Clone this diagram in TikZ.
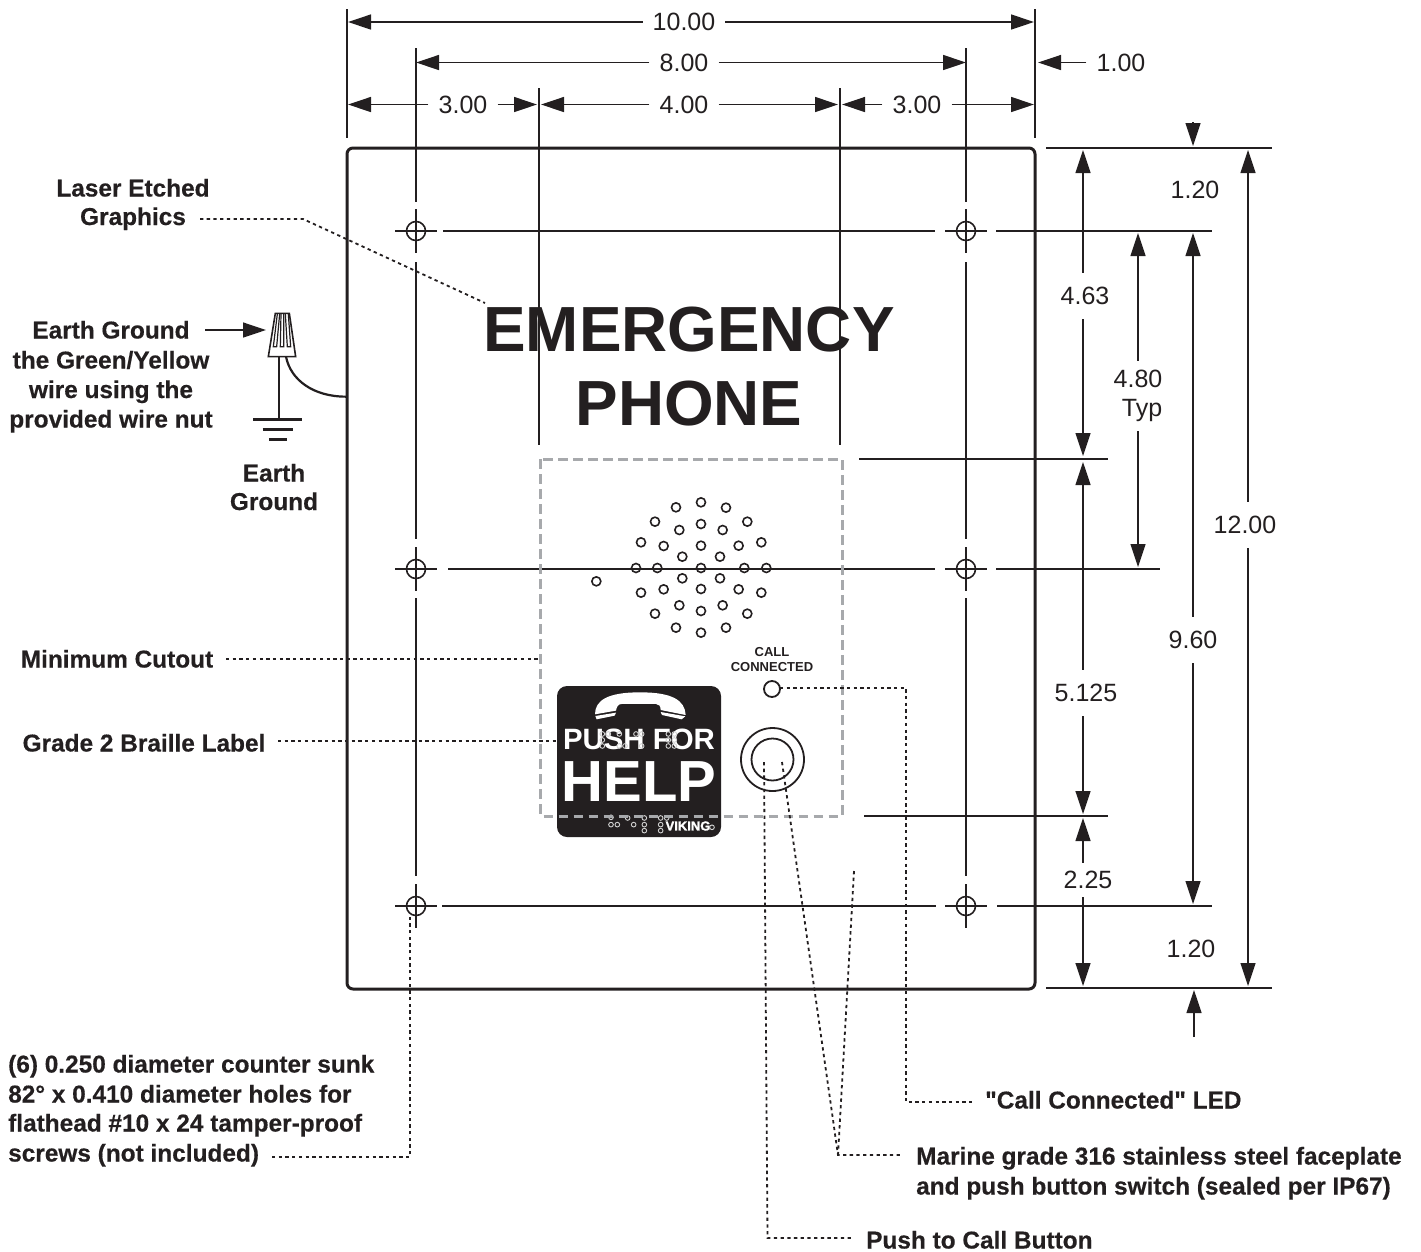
\documentclass[tikz,border=0pt]{standalone}
\usepackage{fontspec}
\setmainfont{Liberation Sans}[Ligatures=TeXOff]
\usetikzlibrary{arrows.meta}
\definecolor{inkblk}{HTML}{231F20}
\definecolor{cutgray}{HTML}{A7A9AC}
\tikzset{
    thinln/.style={draw=inkblk,line width=1.3pt},
    dimline/.style={thinln,-{Triangle[length=23pt,width=15pt]}},
    leader/.style={draw=inkblk,line width=1.8pt,dash pattern=on 3.3pt off 3.4pt},
    dimtxt/.style={text=inkblk,font=\fontsize{25}{29.5}\selectfont,inner xsep=10pt,inner ysep=6pt,align=center},
    calltxt/.style={text=inkblk,font=\fontsize{24.4}{29.5}\selectfont\bfseries\addfontfeature{FakeBold=0.4},inner sep=0pt,align=center,text height=17pt,text depth=0pt},
    screwhole/.style={circle,draw=inkblk,line width=1.6pt,minimum size=19pt,inner sep=0pt},
    ring/.style={draw=inkblk,line width=1.6pt},
    nutln/.style={draw=inkblk,line width=1.2pt},
    brl/.style={draw=gray!35,line width=0.9pt},
}
\begin{document}
\begin{tikzpicture}[x=1pt,y=-1pt]
    \useasboundingbox (0,0) rectangle (1421,1251);

    % faceplate and cutout
    \draw[draw=inkblk,line width=3pt,rounded corners=6pt] (347,148) rectangle (1035,989);

    % mounting holes
    \foreach \hx/\hy/\hname in {416/231/ha,966/231/hb,416/569/hc,966/569/hd,416/906/he,966/906/hf} {
        \node[screwhole] (\hname) at (\hx,\hy) {};
        \draw[thinln] ({\hx-21},\hy) -- ({\hx+21},\hy);
        \draw[thinln] (\hx,{\hy-22}) -- (\hx,{\hy+22});
    }
    \foreach \vx in {416,966} {
        \draw[thinln] (\vx,48) -- (\vx,202);
        \draw[thinln] (\vx,262) -- (\vx,539);
        \draw[thinln] (\vx,598) -- (\vx,876);
    }
    \draw[thinln] (443,231) -- (935,231);
    \draw[thinln] (996,231) -- (1212,231);
    \draw[thinln] (448,569) -- (935,569);
    \draw[thinln] (996,569) -- (1160,569);
    \draw[thinln] (442,906) -- (936,906);
    \draw[thinln] (997,906) -- (1212,906);

    % extension lines
    \draw[thinln] (347,9) -- (347,138);
    \draw[thinln] (1035,9) -- (1035,138);
    \draw[thinln] (539,88) -- (539,445);
    \draw[thinln] (840,88) -- (840,445);
    \draw[thinln] (1046,148) -- (1272,148);
    \draw[thinln] (1046,988) -- (1272,988);
    \draw[thinln] (859,459) -- (1108,459);
    \draw[thinln] (864,816) -- (1108,816);

    % top dimensions
    \node[dimtxt] (dten) at (684,22) {10.00};
    \draw[dimline] (dten) -- (348,22);
    \draw[dimline] (dten) -- (1034,22);
    \node[dimtxt] (deight) at (684,62.5) {8.00};
    \draw[dimline] (deight) -- (416,62.5);
    \draw[dimline] (deight) -- (966,62.5);
    \node[dimtxt] (dthreea) at (463,104.5) {3.00};
    \draw[dimline] (dthreea) -- (348,104.5);
    \draw[dimline] (dthreea) -- (537,104.5);
    \node[dimtxt] (dfour) at (684,104.5) {4.00};
    \draw[dimline] (dfour) -- (541,104.5);
    \draw[dimline] (dfour) -- (838,104.5);
    \node[dimtxt] (dthreeb) at (917,104.5) {3.00};
    \draw[dimline] (dthreeb) -- (842,104.5);
    \draw[dimline] (dthreeb) -- (1034,104.5);
    \node[dimtxt] (done) at (1121,62.5) {1.00};
    \draw[dimline] (done) -- (1038,62.5);

    % right dimensions
    \node[dimtxt,inner ysep=14pt] (dfoursix) at (1083,296) {\hspace*{4pt}4.63};
    \draw[dimline] (dfoursix) -- (1083,150);
    \draw[dimline] (dfoursix) -- (1083,456);
    \node[dimtxt,inner ysep=14pt] (dfive) at (1083,693) {\hspace*{6pt}5.125};
    \draw[dimline] (dfive) -- (1083,462);
    \draw[dimline] (dfive) -- (1083,814);
    \node[dimtxt,inner ysep=8pt] (dtwo) at (1083,880) {\hspace*{10pt}2.25};
    \draw[dimline] (dtwo) -- (1083,818);
    \draw[dimline] (dtwo) -- (1083,986);
    \node[dimtxt,inner ysep=9pt] (dfoureight) at (1138,396) {4.80\\\hspace*{8pt}Typ};
    \draw[dimline] (dfoureight) -- (1138,233);
    \draw[dimline] (dfoureight) -- (1138,567);
    \node[dimtxt,inner ysep=14pt] (dnine) at (1193,640) {9.60};
    \draw[dimline] (dnine) -- (1193,233);
    \draw[dimline] (dnine) -- (1193,904);
    \node[dimtxt,inner ysep=14pt] (dtwelve) at (1248,525) {\hspace*{-6pt}12.00};
    \draw[dimline] (dtwelve) -- (1248,150);
    \draw[dimline] (dtwelve) -- (1248,986);
    \node[dimtxt] (dtopone) at (1195,190) {1.20};
    \node[dimtxt] (dbotone) at (1191,949) {1.20};
    \coordinate (toptail) at (1193,122);
    \coordinate (bottail) at (1194,1037);
    \draw[dimline] (toptail) -- (1193,146);
    \draw[dimline] (bottail) -- (1194,990);

    % sign text
    \node[text=inkblk,inner sep=0pt,font=\fontsize{63.8}{64}\selectfont\bfseries] (emerg) at (689,330) {EMERGENCY};
    \node[text=inkblk,inner sep=0pt,font=\fontsize{63.8}{64}\selectfont\bfseries] (phone) at (689,403.5) {PHONE};

    % speaker
    \begin{scope}[shift={(540,480)},x=0.3333pt,y=-0.3333pt]
        \foreach \sx/\sy in {408/82,483/67,558/83,345/125,622/125,418/150,483/132,548/150,303/187,371/198,483/197,596/197,664/187,427/230,540/230,288/264,352/264,483/264,613/264,679/264,427/295,540/295,303/338,371/328,483/327,596/328,664/338,418/376,483/393,548/376,345/401,622/401,408/443,483/458,558/443,169/304} {
            \draw[ring] (\sx,\sy) circle (13.5);
        }
    \end{scope}

    % push for help label
    \node[fill=inkblk,rounded corners=10pt,minimum width=164pt,minimum height=151pt,inner sep=0pt] (helplbl) at (639,761.5) {};
    \begin{scope}[shift={(540,480)},x=0.3333pt,y=-0.3333pt]
        \fill[white] (165,703) .. controls (165,660) and (205,637) .. (300,637) .. controls (395,637) and (435,660) .. (437,705) -- (362,690) .. controls (362,678) and (357,672) .. (348,672) -- (245,672) .. controls (235,672) and (230,680) .. (228,692) -- cycle;
        \fill[white] (166,708) -- (228,698) -- (224,707) -- (170,718) -- cycle;
        \fill[white] (362,696) -- (436,709) -- (425,718) -- (366,705) -- cycle;
    \end{scope}
    \node[text=white,inner sep=0pt,font=\fontsize{29.4}{30}\selectfont\bfseries] (pushfor) at (639,739) {PUSH FOR};
    \node[text=white,inner sep=0pt,font=\fontsize{58}{58}\selectfont\bfseries] (helptxt) at (639,782) {HELP};
    \node[text=white,inner sep=0pt,font=\fontsize{13}{13}\selectfont\bfseries\addfontfeature{FakeBold=1.5}] (vikingtxt) at (688,826) {VIKING};
    \begin{scope}[shift={(540,480)},x=0.3333pt,y=-0.3333pt]
        \foreach \bx/\by in {187/762,187/780,187/798,205/762,238/762,238/798,255/798,288/762,305/762,305/798,385/762,385/780,385/798,403/762,403/780,403/798,213/1012,213/1034,232/1034,263/1014,281/1034,313/1014,313/1034,313/1052,362/1014,362/1034,362/1052,380/1014,516/1042} {
            \draw[brl] (\bx,\by) circle (7);
        }
    \end{scope}
    \draw[draw=cutgray,line width=3pt,dash pattern=on 9.5pt off 5.5pt] (540.5,459) rectangle (842,816);

    % button and LED
    \node[circle,draw=inkblk,line width=1.8pt,minimum size=63pt,inner sep=0pt] (btnouter) at (772.5,759.5) {};
    \node[circle,draw=inkblk,line width=1.8pt,minimum size=42pt,inner sep=0pt] (btninner) at (772.5,759.5) {};
    \node[circle,draw=inkblk,line width=1.8pt,minimum size=16pt,inner sep=0pt] (ledring) at (772,689) {};
    \node[text=inkblk,inner sep=0pt,font=\fontsize{13}{15}\selectfont\bfseries,align=center] (calltxt) at (772,659.5) {CALL\\CONNECTED};

    % earth ground
    \begin{scope}[shift={(200,290)},x=0.3333pt,y=-0.3333pt]
        \draw[ring] (226,70) -- (268,70) -- (287,200) -- (205,200) -- cycle;
        \draw[nutln] (232,72) -- (220,170) -- (230,170) -- (239,72);
        \draw[nutln] (243,72) -- (241,170) -- (251,170) -- (251,72);
        \draw[nutln] (256,72) -- (262,170) -- (272,170) -- (265,72);
        \coordinate (nutl) at (236,200);
        \coordinate (nutr) at (258,200);
        \coordinate (gnda) at (236,388);
        \coordinate (platept) at (438,320);
        \draw[draw=inkblk,line width=2.2pt] (nutl) -- (gnda);
        \draw[draw=inkblk,line width=2.2pt] (nutr) .. controls (272,270) and (340,320) .. (platept);
        \draw[draw=inkblk,line width=2.4pt] (160,388) -- (306,388);
        \draw[draw=inkblk,line width=2.4pt] (188,418) -- (280,418);
        \draw[draw=inkblk,line width=2.4pt] (207,449) -- (261,449);
    \end{scope}

    % callouts
    \node[calltxt] (laserl) at (133,188) {Laser Etched};
    \node[calltxt] (graphl) at (133,216.5) {Graphics};
    \node[calltxt] (earthl) at (111,330) {Earth Ground};
    \node[calltxt] (greenl) at (111,360) {the Green/Yellow};
    \node[calltxt] (usingl) at (111,389.5) {wire using the};
    \node[calltxt] (nutlbl) at (111,419) {provided wire nut};
    \node[calltxt] (gndl) at (274,473) {Earth};
    \node[calltxt] (gndlb) at (274,501.5) {Ground};
    \node[calltxt] (minl) at (117,659) {Minimum Cutout};
    \node[calltxt] (brll) at (144,743) {Grade 2 Braille Label};
    \node[calltxt,anchor=west] (holel) at (8,1064) {(6) 0.250 diameter counter sunk};
    \node[calltxt,anchor=west] (holelb) at (8,1094) {82° x 0.410 diameter holes for};
    \node[calltxt,anchor=west] (holelc) at (8,1123) {flathead \#10 x 24 tamper-proof};
    \node[calltxt,anchor=west] (holeld) at (8,1153) {screws (not included)};
    \node[calltxt,anchor=west] (ledl) at (985,1100) {"Call Connected" LED};
    \node[calltxt,anchor=west] (steell) at (916,1156) {Marine grade 316 stainless steel faceplate};
    \node[calltxt,anchor=west] (steellb) at (916,1186) {and push button switch (sealed per IP67)};
    \node[calltxt,anchor=west] (btnl) at (866,1240) {Push to Call Button};

    % leaders
    \coordinate (lasera) at (200,219);
    \coordinate (laserb) at (303,219);
    \coordinate (laserc) at (485,303);
    \draw[leader] (lasera) -- (laserb) -- (laserc);
    \coordinate (earthtail) at (205,330);
    \draw[dimline] (earthtail) -- (266,330);
    \coordinate (mina) at (226,659);
    \coordinate (minb) at (538,659);
    \draw[leader] (mina) -- (minb);
    \coordinate (brla) at (278,741);
    \coordinate (brlb) at (560,741);
    \draw[leader] (brla) -- (brlb);
    \coordinate (holea) at (272,1157);
    \coordinate (holeb) at (410,1157);
    \coordinate (holec) at (410,917);
    \draw[leader] (holea) -- (holeb) -- (holec);
    \coordinate (leda) at (780,688);
    \coordinate (ledb) at (906,688);
    \coordinate (ledc) at (906,1102);
    \coordinate (ledd) at (972,1102);
    \draw[leader] (leda) -- (ledb) -- (ledc) -- (ledd);
    \coordinate (btna) at (764,762);
    \coordinate (btnb) at (767.5,1238);
    \coordinate (btnc) at (852,1238);
    \draw[leader] (btna) -- (btnb) -- (btnc);
    \coordinate (steela) at (782,762);
    \coordinate (steelb) at (838,1155);
    \coordinate (steelc) at (854,871);
    \coordinate (steeld) at (900,1155);
    \draw[leader] (steela) -- (steelb) -- (steeld);
    \draw[leader] (steelc) -- (steelb);
\end{tikzpicture}
\end{document}
